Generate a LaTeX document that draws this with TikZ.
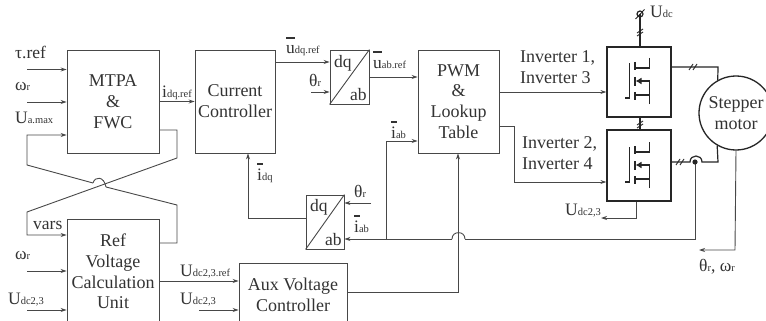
\documentclass[tikz,border=0pt]{standalone}
\usepackage{fontspec}
\setmainfont{Liberation Serif}
\usetikzlibrary{arrows.meta}
\definecolor{ln}{HTML}{484848}
\definecolor{tx}{HTML}{333333}
\newcommand\sbs[1]{{\fontsize{10.5}{12}\selectfont #1}}
\newcommand\bbar[2][9pt]{\rlap{\raisebox{#2}{\rule{#1}{1.6pt}}}}
\tikzset{
  blockbox/.style={draw=ln,line width=.9pt,inner sep=0pt,align=center,text=tx,
    font=\fontsize{18}{20.8}\selectfont},
  powerbox/.style={draw=black!85,line width=1.3pt,inner sep=0pt},
  wire/.style={draw=ln,line width=.9pt},
  arr/.style={wire,-{Stealth[length=6pt,width=4pt]}},
  pwire/.style={draw=black!85,line width=1.2pt},
  lab/.style={anchor=base west,inner sep=0pt,text=tx,font=\fontsize{17.5}{20.6}\selectfont},
  mlab/.style={anchor=west,inner sep=0pt,text=tx,align=left,font=\fontsize{18}{20.4}\selectfont},
  fet/.pic={
    \draw[pwire] (625,98)--(629.3,98)--(629.3,63);
    \draw[pwire] (635,62)--(635,70) (635,77)--(635,86) (635,92)--(635,100);
    \draw[pwire] (649.3,58)--(649.3,68)--(635,68);
    \draw[pwire] (635,95)--(649.3,95) (649.3,104)--(649.3,81)--(643,81);
    \draw[pwire,-{Latex[length=6pt,width=7pt]}] (644,81)--(635.5,81);
  }
}
\newcommand\hslash[2]{\draw[pwire,line width=.9pt] (#1-4,#2+3)--(#1,#2-3) (#1,#2+3)--(#1+4,#2-3);}
\newcommand\vslash[2]{\draw[pwire,line width=.9pt] (#1-3,#2+1)--(#1+3,#2-3) (#1-3,#2+4)--(#1+3,#2);}
\begin{document}
\begin{tikzpicture}[x=1pt,y=-1pt]
\clip (0,0) rectangle (766,321);
\fill[white] (0,0) rectangle (766,321);
% blocks
\node[blockbox,minimum width=92pt,minimum height=103pt] (mtpa) at (113,101.5) {MTPA\\\&\\FWC};
\node[blockbox,minimum width=80pt,minimum height=103pt] (cc) at (235,101.5) {Current\\Controller};
\node[blockbox,minimum width=39pt,minimum height=54pt] (dq1) at (349.5,77) {};
\node[blockbox,minimum width=81pt,minimum height=103pt] (pwm) at (458.5,101.5) {PWM\\\&\\Lookup\\Table};
\node[blockbox,minimum width=92pt,minimum height=105pt] (ref) at (113,271.5) {Ref\\Voltage\\Calculation\\Unit};
\node[blockbox,minimum width=108pt,minimum height=64pt] (aux) at (293,295) {Aux Voltage\\Controller};
\node[blockbox,minimum width=38pt,minimum height=54pt] (dq2) at (325,222) {};
\node[powerbox,minimum width=64pt,minimum height=70pt] (inva) at (639,82) {};
\node[powerbox,minimum width=64pt,minimum height=71pt] (invb) at (639,165.5) {};
\node[blockbox,powerbox,circle,minimum size=74pt,font=\fontsize{18}{20.8}\selectfont,text=tx,align=center] (motor) at (736,113) {Stepper\\motor};
% dq/ab contents
\draw[wire] (dq1.south west)--(dq1.north east);
\draw[wire] (dq2.south west)--(dq2.north east);
\node[lab] (t1) at (334,67) {dq};
\node[lab] (t2) at (350,100) {ab};
\node[lab] (t3) at (310,211) {dq};
\node[lab] (t4) at (325,245) {ab};
% coordinates
\coordinate (tauin) at (27,69.5);
\coordinate (wrin) at (27,102);
\coordinate (uain) at (27,135);
\coordinate (fwcout) at (159,130);
\coordinate (fwcc) at (177,130);
\coordinate (fwcd) at (177,158);
\coordinate (varsb) at (27,212);
\coordinate (varsc) at (27,235);
\coordinate (refout) at (159,243);
\coordinate (refc) at (177,243);
\coordinate (refd) at (177,205);
\coordinate (refe) at (106,187);
\coordinate (refg) at (93,183);
\coordinate (refh) at (27,165);
\coordinate (wrref) at (27,271);
\coordinate (udref) at (27,310);
\coordinate (udaux) at (199,310);
\coordinate (th1) at (311,92);
\coordinate (th2) at (371,203);
\coordinate (ab2r) at (452,239);
\coordinate (ab2s) at (465,239);
\coordinate (iabt) at (386,239);
\coordinate (iabu) at (386,141);
\coordinate (fbk) at (695,239);
\coordinate (dot) at (695,162);
\coordinate (idqc) at (248,218);
\coordinate (auxc) at (458,292);
\coordinate (j1) at (514,126);
\coordinate (j2) at (514,182);
\coordinate (ia1) at (718,67);
\coordinate (ib1) at (690,162);
\coordinate (ib2) at (702,162);
\coordinate (ib3) at (718,162);
\coordinate (udc) at (640,14);
\coordinate (ud23a) at (636,218);
\coordinate (ud23b) at (601,218);
\coordinate (mtr) at (735,250);
\coordinate (mtrb) at (699,250);
% connectors
\draw[arr] (tauin)--(mtpa.west|-tauin);
\draw[arr] (wrin)--(mtpa.west|-wrin);
\draw[arr] (refg)--(refh)--(uain)--(mtpa.west|-uain);
\draw[wire] (refg) .. controls (95,176) and (104,176) .. (refe);
\draw[wire] (refe)--(refd)--(refc)--(refout);
\draw[arr] (fwcout)--(fwcc)--(fwcd)--(varsb)--(varsc)--(ref.west|-varsc);
\draw[arr] (wrref)--(ref.west|-wrref);
\draw[arr] (udref)--(ref.west|-udref);
\draw[arr] (mtpa.east|-cc)--(cc.west);
\draw[arr] (ref.east|-0,281)--(aux.west|-0,281);
\draw[arr] (udaux)--(aux.west|-udaux);
\draw[arr] (cc.east|-0,62)--(dq1.west|-0,62);
\draw[arr] (th1)--(dq1.west|-th1);
\draw[arr] (dq1.east|-0,77)--(pwm.west|-0,77);
\draw[arr] (th2)--(dq2.east|-th2);
\draw[arr] (ab2r)--(dq2.east|-ab2r);
\draw[wire] (ab2s) .. controls (465,230.5) and (452,230.5) .. (ab2r);
\draw[wire] (ab2s)--(fbk)--(dot);
\draw[arr] (iabt)--(iabu)--(pwm.west|-iabu);
\draw[arr] (dq2.west|-idqc)--(idqc)--(cc.south-|idqc);
\draw[arr] (aux.east|-auxc)--(auxc)--(pwm.south-|auxc);
\draw[arr] (pwm.east|-0,92)--(inva.west|-0,92);
\draw[arr] (pwm.east|-j1)--(j1)--(j2)--(invb.west|-j2);
\draw[arr] (invb.south-|ud23a)--(ud23a)--(ud23b);
\draw[arr] (motor.south)--(mtr)--(mtrb);
% power wiring
\draw[pwire] (inva.east|-ia1)--(ia1)--(motor.119.4);
\draw[pwire] (invb.east|-ib1)--(ib1) .. controls (690,154) and (702,154) .. (ib2)--(ib3)--(motor.240.6);
\draw[pwire] (udc)--(inva.north-|udc);
\draw[pwire] (inva.south-|udc)--(invb.north-|udc);
\draw[pwire] (udc) circle[radius=3pt];
\draw[pwire,line width=.9pt] (635.5,19)--(644.5,9.5);
\fill[black!85] (dot) circle[radius=2.6pt];
\hslash{693}{67}\hslash{680}{162}\vslash{640}{32}\vslash{640}{124}
\pic at (0,0) {fet};
\pic at (0,84) {fet};
% labels
\node[lab] (l1) at (15,59) {τ.ref};
\node[lab] (l2) at (15,91) {ω\sbs{r}};
\node[lab] (l3) at (15,124) {U\sbs{a.max}};
\node[lab] (l4) at (162,97) {i\sbs{dq.ref}};
\node[lab] (l5) at (33,229) {vars};
\node[lab] (l6) at (15,259) {ω\sbs{r}};
\node[lab] (l7) at (8,304) {U\sbs{dc2,3}};
\node[lab] (l8) at (180,276) {U\sbs{dc2,3.ref}};
\node[lab] (l9) at (180,304) {U\sbs{dc2,3}};
\node[lab] (l10) at (286,54) {\bbar{15pt}u\sbs{dq.ref}};
\node[lab] (l11) at (309,86) {θ\sbs{r}};
\node[lab] (l12) at (373,69) {\bbar{16pt}u\sbs{ab.ref}};
\node[lab] (l13) at (391,138) {\bbar[6pt]{15pt}i\sbs{ab}};
\node[lab] (l14) at (257,180) {\bbar[6pt]{15pt}i\sbs{dq}};
\node[lab] (l15) at (354,197) {θ\sbs{r}};
\node[lab] (l16) at (354,232) {\bbar[6pt]{15pt}i\sbs{ab}};
\node[mlab] (l17) at (520,67) {Inverter 1,\\Inverter 3};
\node[mlab] (l18) at (522,153) {Inverter 2,\\Inverter 4};
\node[lab] (l19) at (650,18) {U\sbs{dc}};
\node[lab] (l20) at (565,215) {U\sbs{dc2,3}};
\node[lab] (l21) at (699,271) {θ\sbs{r}, ω\sbs{r}};
\end{tikzpicture}
\end{document}
